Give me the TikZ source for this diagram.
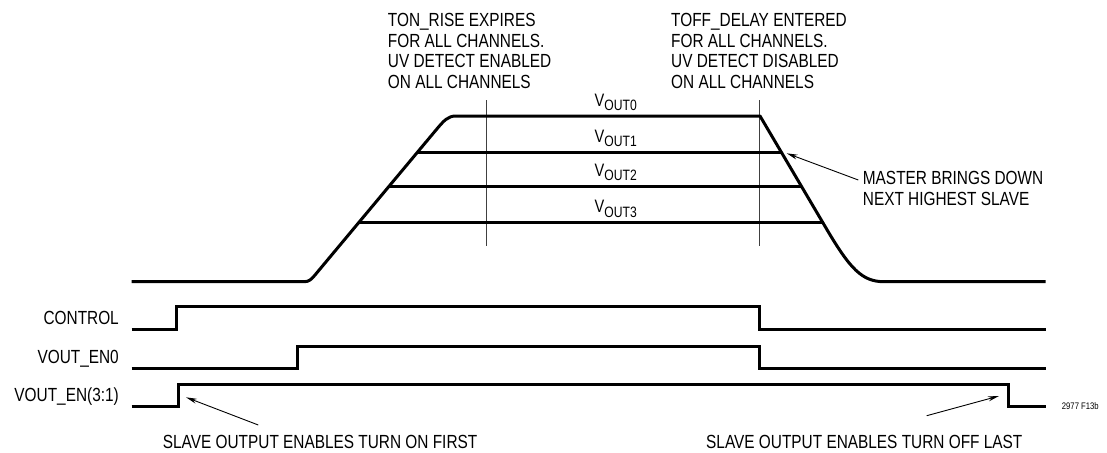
\documentclass[tikz,border=0pt]{standalone}
\usepackage{fontspec}
\setmainfont[FakeStretch=0.81]{Liberation Sans}
\usetikzlibrary{arrows.meta}
\newcommand\lblfont{\fontsize{19}{20.6}\selectfont}
\newcommand\voutlbl[1]{{\fontsize{18}{20}\selectfont V\raisebox{-4.3pt}{\fontsize{15}{16}\selectfont OUT#1}}}
\begin{document}
\begin{tikzpicture}[x=1pt,y=-1pt,
  wave/.style={line width=3pt,line join=miter,line cap=butt},
  guide/.style={line width=1pt,black!75},
  callout/.style={line width=0.9pt,-{Stealth[length=11pt,width=5pt]}},
  txt/.style={font=\lblfont,inner sep=0pt,align=left},
  vlbl/.style={inner sep=0pt,anchor=base}]
\useasboundingbox (0,0) rectangle (1107,452);
% top notes
\node[txt,anchor=north west] (ton) at (387.7,13.1) {TON\_RISE EXPIRES\\FOR ALL CHANNELS.\\UV DETECT ENABLED\\ON ALL CHANNELS};
\node[txt,anchor=north west] (toff) at (671,13.1) {TOFF\_DELAY ENTERED\\FOR ALL CHANNELS.\\UV DETECT DISABLED\\ON ALL CHANNELS};
% guide lines
\coordinate (g1t) at (486.7,100); \coordinate (g1b) at (486.7,246);
\coordinate (g2t) at (759.3,100); \coordinate (g2b) at (759.3,246);
\draw[guide] (g1t) -- (g1b);
\draw[guide] (g2t) -- (g2b);
% VOUT0 envelope
\draw[wave,line join=round] (131.7,281.7) -- (304,281.7)
  .. controls (309,281.7) and (311.2,279.5) .. (314.5,275.6)
  -- (436,130) .. controls (444,120.4) and (448,116) .. (456,116)
  -- (760,116) -- (826,228)
  .. controls (850,268.8) and (862,281.7) .. (884,281.7) -- (1045.7,281.7);
% slave levels
\draw[wave] (417.6,152) -- (781.7,152);
\draw[wave] (389.3,186) -- (801.7,186);
\draw[wave] (358.6,222.7) -- (822.7,222.7);
\node[vlbl] (v0) at (615.8,106) {\voutlbl{0}};
\node[vlbl] (v1) at (615.8,142) {\voutlbl{1}};
\node[vlbl] (v2) at (615.8,176) {\voutlbl{2}};
\node[vlbl] (v3) at (615.8,212.7) {\voutlbl{3}};
% master callout
\node[txt,anchor=north west] (master) at (862.7,171.4) {MASTER BRINGS DOWN\\NEXT HIGHEST SLAVE};
\coordinate (mA) at (858.3,180);
\coordinate (mB) at (786.7,153.3);
\draw[callout] (mA) -- (mB);
% digital waveforms
\node[txt,anchor=base east] (ctl) at (119,324.3) {CONTROL};
\node[txt,anchor=base east] (en0) at (119,363.3) {VOUT\_EN0};
\node[txt,anchor=base east] (en31) at (119,401.7) {VOUT\_EN(3:1)};
\draw[wave] (131.7,329) -- (176.7,329) -- (176.7,306.7) -- (759.3,306.7) -- (759.3,329) -- (1045.7,329);
\draw[wave] (131.7,368.3) -- (297.3,368.3) -- (297.3,346.7) -- (759.3,346.7) -- (759.3,368.3) -- (1045.7,368.3);
\draw[wave] (131.7,406.7) -- (178.7,406.7) -- (178.7,384.3) -- (1008.3,384.3) -- (1008.3,406.7) -- (1045.7,406.7);
\node[inner sep=0pt,anchor=west,font=\fontsize{9.5}{11}\selectfont] (fig) at (1061.7,406) {2977 F13b};
% bottom callouts
\node[txt,anchor=base west] (on) at (162.7,448.3) {SLAVE OUTPUT ENABLES TURN ON FIRST};
\node[txt,anchor=base west] (off) at (706,448.3) {SLAVE OUTPUT ENABLES TURN OFF LAST};
\coordinate (aA) at (258.3,425); \coordinate (aB) at (186,397.3);
\coordinate (bA) at (926.7,415.7); \coordinate (bB) at (999,396);
\draw[callout] (aA) -- (aB);
\draw[callout] (bA) -- (bB);
\end{tikzpicture}
\end{document}
